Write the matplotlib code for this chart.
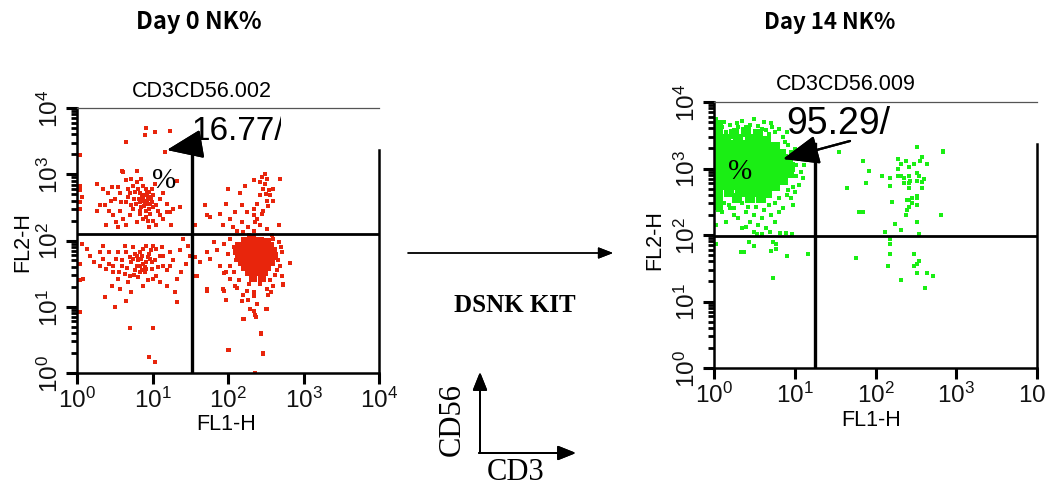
import numpy as np
import matplotlib
matplotlib.use("Agg")
import matplotlib.pyplot as plt
from matplotlib.ticker import LogLocator, NullFormatter
from matplotlib.transforms import Bbox, TransformedBbox

plt.rcParams['font.family'] = ['Liberation Sans', 'DejaVu Sans']
plt.rcParams['mathtext.fontset'] = 'custom'
plt.rcParams['mathtext.rm'] = 'Liberation Sans'
plt.rcParams['mathtext.it'] = 'Liberation Sans:italic'

W, H = 1046, 489

## Data (log10 of FL1-H, log10 of FL2-H) ##

# Day 0: CD3- CD56+ (upper left quadrant)
day0_ul = [
    (0.035, 3.29), (0.035, 2.83), (0.035, 2.76), (0.06, 2.65), (0.035, 2.58), (0.035, 2.48),
    (0.26, 2.86), (0.35, 2.78), (0.41, 2.71), (0.46, 2.81), (0.50, 2.63), (0.54, 2.81),
    (0.57, 2.71), (0.61, 3.03), (0.65, 2.91), (0.68, 2.78), (0.70, 2.71), (0.72, 2.93),
    (0.74, 2.83), (0.77, 2.73), (0.79, 2.88), (0.81, 2.78), (0.83, 2.71), (0.85, 2.93),
    (0.88, 2.83), (0.90, 2.68), (0.92, 2.78), (0.94, 2.63), (0.96, 2.73), (0.99, 2.58),
    (1.01, 2.68), (1.03, 2.86), (1.05, 2.53), (1.10, 2.63), (1.14, 2.71), (1.19, 2.55),
    (1.23, 2.43), (1.27, 2.48), (1.36, 2.50), (0.37, 2.53), (0.43, 2.45), (0.48, 2.38),
    (0.52, 2.28), (0.57, 2.45), (0.61, 2.33), (0.65, 2.23), (0.70, 2.38), (0.74, 2.48),
    (0.79, 2.28), (0.83, 2.40), (0.88, 2.33), (0.92, 2.45), (0.96, 2.20), (1.01, 2.30),
    (1.05, 2.23), (1.10, 2.38), (1.14, 2.33), (1.19, 2.43), (1.25, 2.23), (0.65, 2.58),
    (0.72, 2.53), (0.83, 2.58), (0.92, 2.55), (0.26, 2.45), (0.30, 2.53), (0.39, 2.23),
    (0.54, 2.20), (0.88, 2.63), (0.91, 2.55), (0.93, 2.71), (0.95, 2.48), (0.97, 2.40),
    (0.91, 2.35), (0.94, 2.30), (0.85, 2.50), (0.82, 2.63), (0.99, 2.78), (0.92, 3.70),
    (1.03, 3.64), (0.90, 3.59), (1.23, 3.66), (0.65, 3.49), (1.16, 3.34), (0.60, 3.05),
    (0.80, 3.05), (1.32, 2.90), (0.87, 2.60), (0.95, 2.66), (0.89, 2.52), (0.98, 2.62),
    (0.86, 2.68), (0.90, 2.58), (0.93, 2.60), (0.97, 2.55), (0.84, 2.45), (0.78, 2.55),
    (0.68, 2.66), (0.75, 2.62), (1.07, 2.45), (1.00, 2.50), (0.58, 2.58), (0.45, 2.60),
]

# Day 0: CD3- CD56- (lower left quadrant)
day0_ll = [
    (0.07, 1.95), (0.13, 1.87), (0.17, 1.77), (0.23, 1.68), (0.30, 1.62), (0.35, 1.72),
    (0.39, 1.57), (0.43, 1.65), (0.48, 1.52), (0.52, 1.72), (0.54, 1.42), (0.59, 1.62),
    (0.63, 1.50), (0.65, 1.82), (0.68, 1.37), (0.72, 1.67), (0.74, 1.90), (0.77, 1.55),
    (0.79, 1.77), (0.81, 1.45), (0.83, 1.62), (0.85, 1.72), (0.88, 1.87), (0.90, 1.52),
    (0.92, 1.67), (0.94, 1.40), (0.96, 1.80), (0.99, 1.57), (1.01, 1.92), (1.03, 1.70),
    (1.05, 1.47), (1.10, 1.77), (1.12, 1.90), (1.14, 1.62), (1.19, 1.55), (1.23, 1.82),
    (1.27, 1.70), (1.32, 1.42), (1.36, 1.85), (1.41, 2.03), (1.45, 1.65), (1.47, 1.92),
    (1.50, 1.77), (1.38, 1.52), (1.30, 1.22), (1.32, 1.07), (1.23, 1.62), (0.72, 1.22),
    (0.65, 1.09), (0.50, 0.99), (0.37, 1.14), (0.46, 1.32), (0.57, 1.27), (0.70, 1.47),
    (0.88, 1.32), (1.01, 1.42), (1.10, 1.37), (1.19, 1.32), (0.83, 1.82), (0.92, 1.92),
    (0.63, 1.92), (0.54, 1.82), (0.43, 1.82), (0.30, 1.82), (0.35, 1.92), (0.74, 1.72),
    (0.83, 1.52), (0.92, 1.57), (1.05, 1.87), (1.14, 1.77), (0.035, 1.40), (0.035, 0.92),
    (0.70, 0.68), (1.00, 0.68), (0.96, 0.24), (1.03, 0.16), (0.035, 1.65), (0.08, 1.42),
    (0.77, 1.80), (0.81, 1.70), (0.88, 1.65), (0.94, 1.75), (0.79, 1.62), (0.70, 1.75),
    (0.99, 1.67), (0.86, 1.76), (0.90, 1.60), (0.97, 1.72), (0.60, 1.70), (0.66, 1.58),
    (0.76, 1.48), (0.86, 1.56), (1.07, 1.60), (0.48, 1.62), (0.56, 1.52), (0.98, 1.85),
]

# Day 0: CD3+ events (right half)
day0_cd3 = [
    (2.49, 3.01), (2.51, 2.93), (2.69, 2.93), (2.42, 2.88), (2.60, 2.78), (2.47, 2.78),
    (2.34, 2.91), (2.23, 2.83), (2.00, 2.78), (2.42, 2.68), (2.56, 2.68), (2.51, 2.60),
    (2.60, 2.60), (2.38, 2.55), (2.18, 2.53), (1.98, 2.55), (2.34, 2.48), (2.47, 2.45),
    (2.25, 2.43), (2.09, 2.43), (1.89, 2.40), (1.69, 2.53), (1.72, 2.38), (1.76, 2.35),
    (2.34, 2.38), (2.38, 2.33), (2.36, 2.28), (2.18, 2.28), (2.03, 2.33), (1.94, 2.23),
    (2.07, 2.20), (2.27, 2.20), (2.42, 2.23), (2.51, 2.18), (2.67, 2.23), (2.12, 2.15),
    (2.34, 2.15), (2.20, 2.13), (1.56, 2.23), (2.16, 2.71), (2.54, 2.76), (2.45, 2.96),
    (2.49, 2.86), (2.50, 2.70), (2.53, 2.52), (2.45, 2.40),
    (1.81, 1.97), (1.85, 1.85), (1.76, 1.72), (1.89, 1.62), (1.98, 1.52), (2.03, 1.42),
    (1.72, 1.82), (1.63, 1.67), (1.52, 1.77), (1.58, 1.47), (1.72, 1.27), (1.94, 1.27),
    (2.09, 1.32), (2.20, 1.17), (2.25, 1.24), (2.34, 1.22), (2.42, 1.35), (2.51, 1.27),
    (2.60, 1.32), (2.73, 1.35), (2.71, 1.47), (2.69, 1.62), (2.82, 1.66), (2.71, 1.82),
    (2.67, 1.97), (2.60, 2.03), (2.03, 2.03), (2.20, 0.82), (2.36, 0.87), (2.00, 0.34),
    (2.36, 0.00), (2.47, 0.29), (2.44, 0.59), (2.51, 0.97), (2.29, 0.97), (2.18, 1.09),
    (2.38, 1.04), (1.59, 1.47), (1.72, 1.24), (1.95, 1.24), (1.98, 1.10), (2.12, 1.28),
    (2.26, 1.10), (2.34, 1.16), (2.73, 1.33), (2.34, 0.93), (2.50, 0.96), (2.21, 0.82),
    (2.37, 0.85), (2.44, 0.60), (2.01, 0.34), (2.47, 0.30), (1.55, 2.23), (1.56, 1.75),
    (1.95, 1.51), (2.57, 1.22), (2.53, 1.18), (2.08, 1.90), (2.10, 1.70), (2.65, 1.55),
    (1.95, 1.95), (2.00, 1.80), (2.02, 1.62), (2.08, 1.52), (2.15, 1.40), (2.28, 1.35),
    (2.55, 1.40), (2.62, 1.48), (2.66, 1.70), (2.70, 1.90), (2.58, 2.08), (2.28, 2.08),
]

# Day 0: dense core of the CD3+ CD56- population
day0_core = [
    (2.22, 2.00), (2.32, 2.02), (2.42, 2.00), (2.52, 1.98),
    (2.15, 1.92), (2.25, 1.92), (2.35, 1.92), (2.45, 1.92), (2.55, 1.92),
    (2.12, 1.84), (2.22, 1.84), (2.32, 1.84), (2.42, 1.84), (2.52, 1.84), (2.60, 1.84),
    (2.15, 1.76), (2.25, 1.76), (2.35, 1.76), (2.45, 1.76), (2.55, 1.76), (2.61, 1.76),
    (2.18, 1.68), (2.28, 1.68), (2.38, 1.68), (2.48, 1.68), (2.57, 1.68),
    (2.22, 1.60), (2.32, 1.60), (2.42, 1.60), (2.52, 1.60),
    (2.28, 1.52), (2.38, 1.52), (2.48, 1.52),
    (2.33, 1.44), (2.45, 1.44),
]

# Day 14: dense core of the CD3- CD56+ (NK) population
day14_core = [
    (0.05, 3.55), (0.25, 3.52), (0.40, 3.55), (0.55, 3.52),
    (0.05, 3.45), (0.15, 3.45), (0.30, 3.45), (0.45, 3.45), (0.55, 3.45), (0.65, 3.42),
    (0.05, 3.35), (0.15, 3.35), (0.25, 3.35), (0.35, 3.35), (0.45, 3.35), (0.55, 3.35),
    (0.65, 3.35), (0.75, 3.33),
    (0.05, 3.25), (0.15, 3.25), (0.25, 3.25), (0.35, 3.25), (0.45, 3.25), (0.55, 3.25),
    (0.65, 3.25), (0.75, 3.25), (0.83, 3.22),
    (0.05, 3.15), (0.15, 3.15), (0.25, 3.15), (0.35, 3.15), (0.45, 3.15), (0.55, 3.15),
    (0.65, 3.15), (0.75, 3.15), (0.85, 3.15), (0.92, 3.12),
    (0.05, 3.05), (0.15, 3.05), (0.25, 3.05), (0.35, 3.05), (0.45, 3.05), (0.55, 3.05),
    (0.65, 3.05), (0.75, 3.05), (0.85, 3.05), (0.94, 3.03),
    (0.05, 2.95), (0.15, 2.95), (0.25, 2.95), (0.35, 2.95), (0.45, 2.95), (0.55, 2.95),
    (0.65, 2.95), (0.75, 2.95), (0.85, 2.95), (0.93, 2.93),
    (0.05, 2.85), (0.15, 2.85), (0.25, 2.85), (0.35, 2.85), (0.45, 2.85), (0.55, 2.85),
    (0.65, 2.85), (0.75, 2.85), (0.85, 2.83),
    (0.05, 2.75), (0.15, 2.75), (0.25, 2.75), (0.35, 2.75), (0.45, 2.75), (0.55, 2.75),
    (0.65, 2.75), (0.75, 2.73),
    (0.05, 2.65), (0.18, 2.65), (0.32, 2.65), (0.45, 2.65), (0.55, 2.65), (0.66, 2.63),
    (0.05, 2.55), (0.28, 2.55), (0.45, 2.56), (0.58, 2.55),
    (0.05, 2.45), (0.05, 3.65),
]

# Day 14: sparse events at the edge of the NK population
day14_edge = [
    (0.35, 3.72), (0.50, 3.74), (0.62, 3.70), (0.70, 3.68), (0.20, 3.65), (0.10, 3.62),
    (0.45, 3.66), (0.80, 3.60), (0.90, 3.55), (0.25, 3.58), (0.60, 3.60), (0.75, 3.55),
    (0.02, 3.75), (0.02, 3.68), (0.15, 3.55), (0.68, 3.52), (0.30, 3.62), (0.40, 3.62),
    (0.55, 3.64), (0.85, 3.48), (0.72, 3.62), (0.12, 3.70), (0.28, 3.68), (0.65, 3.58),
    (1.00, 3.30), (1.05, 3.15), (1.08, 2.95), (1.10, 2.85), (1.05, 2.75), (1.00, 2.65),
    (0.95, 2.55), (1.02, 3.05), (0.98, 2.45), (0.90, 2.60), (1.12, 3.05), (0.92, 3.35),
    (0.95, 3.25), (1.02, 2.88), (0.98, 2.72), (0.88, 3.40), (1.06, 3.20), (0.92, 2.68),
    (0.05, 2.38), (0.10, 2.35), (0.20, 2.40), (0.25, 2.30), (0.30, 2.25), (0.40, 2.35),
    (0.45, 2.20), (0.50, 2.30), (0.55, 2.15), (0.60, 2.25), (0.70, 2.30), (0.75, 2.20),
    (0.80, 2.35), (0.85, 2.40), (0.50, 2.05), (0.53, 2.02), (0.59, 2.02), (0.69, 2.04),
    (0.82, 2.03), (0.89, 2.03), (0.96, 2.02), (0.35, 2.10), (0.15, 2.20), (0.03, 2.15),
    (0.65, 2.10), (0.40, 2.12), (0.12, 2.48), (0.35, 2.48), (0.52, 2.42), (0.68, 2.45),
    (0.18, 2.45), (0.62, 2.38), (0.75, 2.48), (0.80, 2.55), (0.42, 2.42), (0.25, 2.40),
    (0.03, 1.87), (0.43, 1.90), (0.50, 1.83), (0.34, 1.75), (0.37, 1.75), (0.73, 1.90),
    (0.77, 1.87), (0.77, 1.79), (0.70, 1.76), (0.90, 1.68), (1.16, 1.72), (0.73, 1.35),
]

# Day 14: CD3+ events (right half)
day14_cd3 = [
    (1.55, 3.25), (2.51, 3.33), (2.84, 3.25), (2.57, 3.18), (1.85, 3.11), (2.28, 3.14),
    (2.38, 3.11), (2.55, 3.11), (2.32, 3.07), (2.48, 3.07), (2.64, 3.07), (2.41, 3.03),
    (2.28, 2.99), (1.92, 2.96), (2.51, 2.93), (2.08, 2.88), (2.28, 2.88), (2.32, 2.88),
    (2.41, 2.88), (2.54, 2.88), (2.18, 2.85), (2.35, 2.85), (2.60, 2.84), (2.43, 2.81),
    (2.51, 2.81), (2.58, 2.79), (1.88, 2.78), (2.35, 2.78), (2.18, 2.74), (2.41, 2.78),
    (1.65, 2.70), (2.41, 2.70), (2.58, 2.70), (2.51, 2.59), (2.51, 2.55), (2.45, 2.55),
    (2.39, 2.52), (2.42, 2.52), (2.45, 2.48), (2.21, 2.49), (2.51, 2.45), (2.42, 2.42),
    (2.39, 2.38), (1.79, 2.34), (1.85, 2.34), (2.38, 2.30), (2.81, 2.30), (2.51, 2.19),
    (2.24, 2.16), (2.32, 2.08), (2.12, 2.05), (2.54, 2.02), (2.18, 1.94), (2.18, 1.87),
    (2.18, 1.72), (2.48, 1.72), (1.76, 1.65), (2.54, 1.61), (2.51, 1.57), (2.48, 1.53),
    (2.15, 1.53), (2.51, 1.43), (2.64, 1.43), (2.71, 1.39), (2.32, 1.32), (2.61, 1.21),
    (2.83, 3.27),
]

quad_day0 = (33, 126)     # quadrant gate (FL1, FL2)
quad_day14 = (18, 96)

decade_ticks = [1, 10, 100, 1000, 10000]
decade_labels = [r'$10^{0}$', r'$10^{1}$', r'$10^{2}$', r'$10^{3}$', r'$10^{4}$']

red = '#e8250c'
green = '#1aee14'


def fp(x, y):
    # pixel position in the picture -> figure fraction
    return (x / W, 1 - y / H)


def unlog(points):
    arr = np.array(points)
    return 10 ** arr[:, 0], 10 ** arr[:, 1]


def make_axes(fig, x0, y0, x1, y1):
    ax = fig.add_axes([x0 / W, 1 - y1 / H, (x1 - x0) / W, (y1 - y0) / H])
    ax.set_xscale('log')
    ax.set_yscale('log')
    ax.set_xlim(1, 10000)
    ax.set_ylim(1, 10000)
    ax.set_xticks(decade_ticks)
    ax.set_xticklabels(decade_labels)
    ax.set_yticks(decade_ticks)
    ax.set_yticklabels(decade_labels)
    for axis in (ax.xaxis, ax.yaxis):
        axis.set_minor_locator(LogLocator(base=10, subs=np.arange(2, 10)))
        axis.set_minor_formatter(NullFormatter())
    ax.tick_params(which='major', direction='out', length=8, width=2.2, labelsize=17.5,
                   pad=2, colors='black', labelcolor='#111111')
    ax.tick_params(which='minor', direction='out', length=4.5, width=2.0)
    for lbl in ax.get_yticklabels():
        lbl.set_rotation(90)
        lbl.set_va('center')
        lbl.set_ha('right')
    for side in ('left', 'bottom', 'right'):
        ax.spines[side].set_linewidth(1.8)
    ax.spines['top'].set_linewidth(0.9)
    ax.spines['top'].set_color('#555555')
    ax.spines['right'].set_bounds(1, 10 ** 3.37)
    return ax


fig = plt.figure(figsize=(W / 100, H / 100), dpi=100)

## Day 0 panel ##
ax0 = make_axes(fig, 77, 109, 379, 374)
x, y = unlog(day0_core)
ax0.scatter(x, y, s=31, marker='s', color=red, linewidths=0, zorder=2)
for pts in (day0_ul, day0_ll, day0_cd3):
    x, y = unlog(pts)
    ax0.scatter(x, y, s=5.5, marker='s', color=red, linewidths=0, zorder=2)
ax0.axhline(quad_day0[1], color='black', lw=2.0, zorder=3)
ax0.plot([quad_day0[0], quad_day0[0]], [1, 10 ** 3.32], color='black', lw=2.4, zorder=3)

## Day 14 panel ##
ax1 = make_axes(fig, 714, 103, 1037, 369)
x, y = unlog(day14_core)
ax1.scatter(x, y, s=42, marker='s', color=green, linewidths=0, zorder=2)
for pts in (day14_edge, day14_cd3):
    x, y = unlog(pts)
    ax1.scatter(x, y, s=5.5, marker='s', color=green, linewidths=0, zorder=2)
ax1.axhline(quad_day14[1], color='black', lw=2.0, zorder=3)
ax1.plot([quad_day14[0], quad_day14[0]], [1, 10 ** 3.37], color='black', lw=2.4, zorder=3)

## Panel texts ##
fig.text(*fp(199, 22), 'Day 0 NK%', ha='center', va='center', fontsize=17,
         fontweight='bold', family=['Noto Sans CJK JP', 'DejaVu Sans'])
fig.text(*fp(830, 22), 'Day 14 NK%', ha='center', va='center', fontsize=16,
         fontweight='bold', family=['Noto Sans CJK JP', 'DejaVu Sans'])
fig.text(*fp(202, 92), 'CD3CD56.002', ha='center', va='center', fontsize=15.5)
fig.text(*fp(846, 85), 'CD3CD56.009', ha='center', va='center', fontsize=15.5)
fig.text(*fp(23, 242), 'FL2-H', ha='center', va='center', fontsize=15.5, rotation=90)
fig.text(*fp(655, 240), 'FL2-H', ha='center', va='center', fontsize=15.5, rotation=90)
fig.text(*fp(226, 425), 'FL1-H', ha='center', va='center', fontsize=15.5)
fig.text(*fp(871, 420), 'FL1-H', ha='center', va='center', fontsize=15.5)

# percentage labels with their arrows
t0 = fig.text(*fp(191, 132), '16.77/', ha='left', va='center', fontsize=24)
t0.set_clip_box(TransformedBbox(Bbox([fp(185, 160), fp(281, 100)]), fig.transFigure))
t0.set_clip_on(True)
fig.text(*fp(786, 124), '95.29/', ha='left', va='center', fontsize=27)
fig.text(*fp(164, 181), '%', ha='center', va='center', fontsize=21, family='Liberation Serif')
fig.text(*fp(740, 172), '%', ha='center', va='center', fontsize=21, family='Liberation Serif')

arrow_big = dict(arrowstyle='-|>,head_length=0.75,head_width=0.3', color='black',
                 lw=1.6, mutation_scale=30, shrinkA=0, shrinkB=0)
fig.add_artist(plt.annotate('', xy=fp(167, 151), xytext=fp(196, 146), xycoords='figure fraction',
                            textcoords='figure fraction', arrowprops=arrow_big))
fig.add_artist(plt.annotate('', xy=fp(783, 160), xytext=fp(850, 142), xycoords='figure fraction',
                            textcoords='figure fraction', arrowprops=arrow_big))

## Middle: treatment arrow and CD3/CD56 key ##
arrow_small = dict(arrowstyle='-|>,head_length=0.9,head_width=0.35', color='black',
                   lw=1.0, mutation_scale=10, shrinkA=0, shrinkB=0)
fig.add_artist(plt.annotate('', xy=fp(613, 254), xytext=fp(408, 254), xycoords='figure fraction',
                            textcoords='figure fraction', arrowprops=arrow_small))
fig.text(*fp(515, 305), 'DSNK KIT', ha='center', va='center', fontsize=18,
         fontweight='bold', family='Liberation Serif')

arrow_key = dict(arrowstyle='-|>,head_length=1.0,head_width=0.4', color='black',
                 lw=1.4, mutation_scale=11, shrinkA=0, shrinkB=0)
fig.add_artist(plt.annotate('', xy=fp(480, 373), xytext=fp(480, 454), xycoords='figure fraction',
                            textcoords='figure fraction', arrowprops=arrow_key))
fig.add_artist(plt.annotate('', xy=fp(576, 454), xytext=fp(479, 454), xycoords='figure fraction',
                            textcoords='figure fraction', arrowprops=arrow_key))
fig.text(*fp(452, 420), 'CD56', ha='center', va='center', fontsize=22, rotation=90,
         family='Liberation Serif')
fig.text(*fp(516, 473), 'CD3', ha='center', va='center', fontsize=22, family='Liberation Serif')

fig.savefig('out.png', dpi=100)
